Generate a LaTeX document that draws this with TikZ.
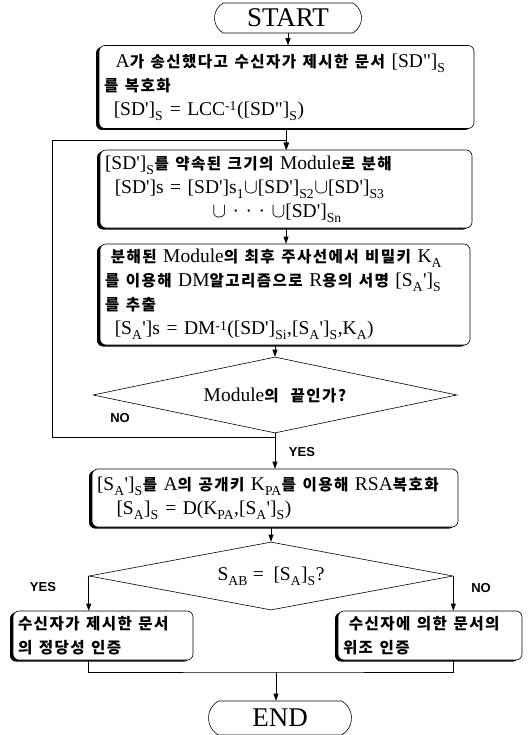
\documentclass[tikz,border=0pt]{standalone}
\usepackage{fontspec}
\setmainfont{Liberation Serif}[Scale=1.5]
\setsansfont{Liberation Sans}
\newfontfamily\krfont{Noto Sans CJK KR}[Scale=1.2, LetterSpace=9, WordSpace=2.4]
\usetikzlibrary{arrows.meta,shapes.misc,shapes.geometric,shadows}

% 한글 부분
\newcommand{\kor}[1]{{\krfont\bfseries #1}}
% 자주 쓰는 기호
\newcommand{\sdp}{[SD\textquotesingle]}
\newcommand{\sdpp}{[SD\textquotedbl]}
\newcommand{\sap}{[S\textsubscript{A}\textquotesingle]}
\newcommand{\uni}{{\fontsize{20}{20}\selectfont$\cup$}}

\tikzset{
    term/.style={draw, rounded rectangle, rounded rectangle arc length=120,
        inner sep=0pt, font=\fontsize{18}{18}\selectfont},
    procbox/.style={draw, fill=white, rounded corners=6pt, align=left,
        inner sep=5pt,
        general shadow={fill=black, shadow xshift=-3pt, shadow yshift=-1.5pt}},
    decision/.style={draw, diamond, inner sep=0pt},
    arr/.style={-{Triangle[length=7pt,width=5pt]}},
    lbl/.style={font=\sffamily\bfseries\fontsize{13}{13}\selectfont}
}

\begin{document}
\begin{tikzpicture}[x=1pt, y=-1pt, line width=0.6pt,
        font=\fontsize{13}{24}\selectfont]
    \useasboundingbox (0,0) rectangle (529,735);

    \node[term, minimum width=147pt, minimum height=30pt] (start) at (288,18) {START};

    \node[procbox, text width=365pt, minimum height=83pt] (decode) at (286.5,87)
        {\hspace*{0.6em}A\kor{가 송신했다고 수신자가 제시한 문서} \sdpp\textsubscript{S}\\
         \kor{를 복호화}\\
         \hspace*{0.5em}\sdp\textsubscript{S} = LCC\textsuperscript{-1}(\sdpp\textsubscript{S})};

    \node[procbox, text width=362pt, minimum height=78pt] (split) at (286,189)
        {\sdp\textsubscript{S}\kor{를 약속된 크기의} Module\kor{로 분해}\\
         \hspace*{0.5em}\sdp{}s = \sdp{}s\textsubscript{1}\uni\sdp\textsubscript{S2}\uni\sdp\textsubscript{S3}\\
         \hspace*{5.5em}\uni{} · · · \uni\sdp\textsubscript{Sn}};

    \node[procbox, text width=360pt, minimum height=101pt] (sign) at (285,294.5)
        {\hspace*{0.3em}\kor{분해된} Module\kor{의 최후 주사선에서 비밀키} K\textsubscript{A}\\
         \kor{를 이용해} DM\kor{알고리즘으로} R\kor{용의 서명} \sap\textsubscript{S}\\
         \kor{를 추출}\\
         \hspace*{0.5em}\sap{}s = DM\textsuperscript{-1}(\sdp\textsubscript{Si},\sap\textsubscript{S},K\textsubscript{A})};

    % Module 끝 검사
    \node[decision, aspect=4.8, minimum width=364pt, minimum height=76pt] (check) at (275,395)
        {Module\kor{의 끝인가?}};

    \node[procbox, text width=356pt, minimum height=58pt] (rsa) at (275,498)
        {\sap\textsubscript{S}\kor{를} A\kor{의 공개키} K\textsubscript{PA}\kor{를 이용해} RSA\kor{복호화}\\
         \hspace*{1em}[S\textsubscript{A}]\textsubscript{S} = D(K\textsubscript{PA},\sap\textsubscript{S})};

    \node[decision, aspect=5.3, minimum width=364pt, minimum height=68pt] (compare) at (271,576)
        {\raisebox{-6pt}{S\textsubscript{AB} = \ [S\textsubscript{A}]\textsubscript{S}?}};

    \node[procbox, text width=170pt, minimum height=49pt] (valid) at (103,635.5)
        {\kor{수신자가 제시한 문서}\\ \kor{의 정당성 인증}};
    \node[procbox, text width=174pt, minimum height=49pt] (forged) at (430,635.5)
        {\hspace*{0.3em}\kor{수신자에 의한 문서의}\\ \kor{위조 인증}};

    \node[term, minimum width=143pt, minimum height=34pt] (end) at (280,718) {END};

    % 라벨
    \node[lbl] (no1) at (120,418) {NO};
    \node[lbl] (yes1) at (302,452) {YES};
    \node[lbl] (yes2) at (43,587) {YES};
    \node[lbl] (no2) at (481,588) {NO};

    % 연결선
    \draw[arr] (start.south) -- (start.south |- decode.north);
    \draw[arr] (decode.south) -- (decode.south |- split.north);
    \draw[arr] (split.south) -- (split.south |- sign.north);
    \draw[arr] (check.north |- sign.south) -- (check.north);

    % 반복 루프
    \coordinate (loopbot) at (52,437);
    \coordinate (looptop) at (52,140);
    \draw[arr] (check.south) |- (loopbot) -- (looptop) -| (split.north);

    \draw[arr] (check.south) -- (check.south |- rsa.north);
    \draw[arr] (rsa.south -| compare.north) -- (compare.north);
    \draw[arr] (compare.west) -- (compare.west |- valid.north);
    \draw[arr] (compare.east) -- (compare.east |- forged.north);

    \coordinate (join) at (276,672);
    \draw (compare.west |- valid.south) |- (join) -| (compare.east |- forged.south);
    \draw[arr] (join) -- (join |- end.north);
\end{tikzpicture}
\end{document}
